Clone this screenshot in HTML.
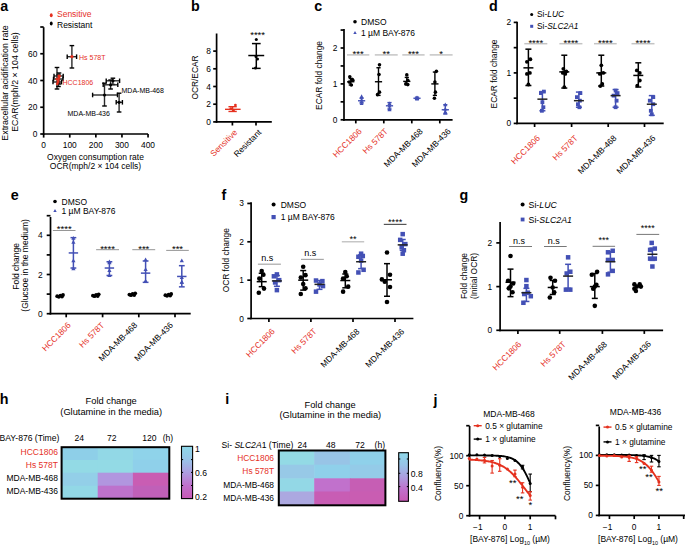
<!DOCTYPE html>
<html><head><meta charset="utf-8"><style>
html,body{margin:0;padding:0;background:#fff;}
svg{display:block;}
text{font-family:"Liberation Sans", sans-serif;}
</style></head><body>
<svg width="685" height="546" viewBox="0 0 685 546">
<rect width="685" height="546" fill="#fff"/>
<text x="0.3" y="10.9" font-size="14.3" text-anchor="start" fill="#000" font-weight="bold">a</text>
<ellipse cx="51.25" cy="15.2" rx="1.45" ry="2.0" fill="#e5311f"/>
<text x="57" y="17.4" font-size="8.5" text-anchor="start" fill="#e5311f">Sensitive</text>
<ellipse cx="51.25" cy="23.5" rx="1.45" ry="2.0" fill="#000"/>
<text x="57" y="27.7" font-size="8.5" text-anchor="start" fill="#000">Resistant</text>
<line x1="43.65" y1="27.20" x2="43.65" y2="134.85" stroke="#000" stroke-width="1.7"/>
<line x1="40.25" y1="134.00" x2="43.65" y2="134.00" stroke="#000" stroke-width="1.7"/>
<line x1="40.25" y1="107.25" x2="43.65" y2="107.25" stroke="#000" stroke-width="1.7"/>
<line x1="40.25" y1="80.50" x2="43.65" y2="80.50" stroke="#000" stroke-width="1.7"/>
<line x1="40.25" y1="53.75" x2="43.65" y2="53.75" stroke="#000" stroke-width="1.7"/>
<line x1="40.25" y1="27.00" x2="43.65" y2="27.00" stroke="#000" stroke-width="1.7"/>
<text x="37.45" y="137.01" font-size="8.4" text-anchor="end" fill="#000">0</text>
<text x="37.45" y="110.26" font-size="8.4" text-anchor="end" fill="#000">20</text>
<text x="37.45" y="83.51" font-size="8.4" text-anchor="end" fill="#000">40</text>
<text x="37.45" y="56.76" font-size="8.4" text-anchor="end" fill="#000">60</text>
<line x1="42.80" y1="134.00" x2="148.05" y2="134.00" stroke="#000" stroke-width="1.7"/>
<line x1="43.65" y1="134.00" x2="43.65" y2="137.60" stroke="#000" stroke-width="1.7"/>
<line x1="69.75" y1="134.00" x2="69.75" y2="137.60" stroke="#000" stroke-width="1.7"/>
<line x1="95.85" y1="134.00" x2="95.85" y2="137.60" stroke="#000" stroke-width="1.7"/>
<line x1="121.95" y1="134.00" x2="121.95" y2="137.60" stroke="#000" stroke-width="1.7"/>
<line x1="148.05" y1="134.00" x2="148.05" y2="137.60" stroke="#000" stroke-width="1.7"/>
<text x="43.65" y="148.0" font-size="8.4" text-anchor="middle" fill="#000">0</text>
<text x="69.75" y="148.0" font-size="8.4" text-anchor="middle" fill="#000">100</text>
<text x="95.85" y="148.0" font-size="8.4" text-anchor="middle" fill="#000">200</text>
<text x="121.94999999999999" y="148.0" font-size="8.4" text-anchor="middle" fill="#000">300</text>
<text x="148.05" y="148.0" font-size="8.4" text-anchor="middle" fill="#000">400</text>
<text x="95.5" y="160.0" font-size="8.5" text-anchor="middle" fill="#000">Oxygen consumption rate</text>
<text x="95.5" y="168.8" font-size="8.5" text-anchor="middle" fill="#000">OCR(mph/2 × 104 cells)</text>
<text x="8.4" y="83" font-size="8.9" text-anchor="middle" fill="#000" transform="rotate(-90 8.4 83)">Extracellular acidification rate</text>
<text x="18.0" y="82.0" font-size="8.8" text-anchor="middle" fill="#000" transform="rotate(-90 18.0 82.0)">ECAR(mph/2 × 104 cells)</text>
<line x1="67.20" y1="56.70" x2="76.60" y2="56.70" stroke="#2a2a2a" stroke-width="1.4"/>
<line x1="71.90" y1="45.60" x2="71.90" y2="68.00" stroke="#2a2a2a" stroke-width="1.4"/>
<line x1="67.20" y1="54.40" x2="67.20" y2="59.00" stroke="#000" stroke-width="1.4"/>
<line x1="76.60" y1="54.40" x2="76.60" y2="59.00" stroke="#000" stroke-width="1.4"/>
<line x1="69.60" y1="45.60" x2="74.20" y2="45.60" stroke="#000" stroke-width="1.4"/>
<line x1="69.60" y1="68.00" x2="74.20" y2="68.00" stroke="#000" stroke-width="1.4"/>
<circle cx="71.90" cy="56.70" r="1.6" fill="#e5311f"/>
<text x="79" y="59.6" font-size="7.0" text-anchor="start" fill="#e5311f">Hs 578T</text>
<line x1="53.50" y1="79.00" x2="63.00" y2="79.00" stroke="#2a2a2a" stroke-width="1.4"/>
<line x1="57.00" y1="67.50" x2="57.00" y2="89.00" stroke="#2a2a2a" stroke-width="1.4"/>
<line x1="53.50" y1="76.70" x2="53.50" y2="81.30" stroke="#000" stroke-width="1.4"/>
<line x1="63.00" y1="76.70" x2="63.00" y2="81.30" stroke="#000" stroke-width="1.4"/>
<line x1="54.70" y1="67.50" x2="59.30" y2="67.50" stroke="#000" stroke-width="1.4"/>
<line x1="54.70" y1="89.00" x2="59.30" y2="89.00" stroke="#000" stroke-width="1.4"/>
<circle cx="57.00" cy="79.00" r="1.6" fill="#e5311f"/>
<line x1="53.00" y1="82.00" x2="61.50" y2="82.00" stroke="#2a2a2a" stroke-width="1.4"/>
<line x1="58.50" y1="75.00" x2="58.50" y2="86.50" stroke="#2a2a2a" stroke-width="1.4"/>
<line x1="53.00" y1="79.70" x2="53.00" y2="84.30" stroke="#000" stroke-width="1.4"/>
<line x1="61.50" y1="79.70" x2="61.50" y2="84.30" stroke="#000" stroke-width="1.4"/>
<line x1="56.20" y1="75.00" x2="60.80" y2="75.00" stroke="#000" stroke-width="1.4"/>
<line x1="56.20" y1="86.50" x2="60.80" y2="86.50" stroke="#000" stroke-width="1.4"/>
<circle cx="58.50" cy="82.00" r="1.6" fill="#e5311f"/>
<line x1="54.00" y1="76.00" x2="63.20" y2="76.00" stroke="#2a2a2a" stroke-width="1.4"/>
<line x1="59.00" y1="73.00" x2="59.00" y2="84.00" stroke="#2a2a2a" stroke-width="1.4"/>
<line x1="54.00" y1="73.70" x2="54.00" y2="78.30" stroke="#000" stroke-width="1.4"/>
<line x1="63.20" y1="73.70" x2="63.20" y2="78.30" stroke="#000" stroke-width="1.4"/>
<line x1="56.70" y1="73.00" x2="61.30" y2="73.00" stroke="#000" stroke-width="1.4"/>
<line x1="56.70" y1="84.00" x2="61.30" y2="84.00" stroke="#000" stroke-width="1.4"/>
<circle cx="59.00" cy="76.00" r="1.6" fill="#e5311f"/>
<line x1="57.0" y1="85" x2="59.8" y2="75" stroke="#e5311f" stroke-width="2.4"/>
<text x="62.5" y="84.6" font-size="7.0" text-anchor="start" fill="#e5311f">HCC1806</text>
<line x1="106.20" y1="80.80" x2="119.60" y2="80.80" stroke="#2a2a2a" stroke-width="1.4"/>
<line x1="112.90" y1="78.20" x2="112.90" y2="84.50" stroke="#2a2a2a" stroke-width="1.4"/>
<line x1="106.20" y1="78.50" x2="106.20" y2="83.10" stroke="#000" stroke-width="1.4"/>
<line x1="119.60" y1="78.50" x2="119.60" y2="83.10" stroke="#000" stroke-width="1.4"/>
<line x1="110.60" y1="78.20" x2="115.20" y2="78.20" stroke="#000" stroke-width="1.4"/>
<line x1="110.60" y1="84.50" x2="115.20" y2="84.50" stroke="#000" stroke-width="1.4"/>
<circle cx="112.90" cy="80.80" r="1.6" fill="#000"/>
<line x1="103.20" y1="84.80" x2="117.80" y2="84.80" stroke="#2a2a2a" stroke-width="1.4"/>
<line x1="110.60" y1="80.00" x2="110.60" y2="89.00" stroke="#2a2a2a" stroke-width="1.4"/>
<line x1="103.20" y1="82.50" x2="103.20" y2="87.10" stroke="#000" stroke-width="1.4"/>
<line x1="117.80" y1="82.50" x2="117.80" y2="87.10" stroke="#000" stroke-width="1.4"/>
<line x1="108.30" y1="80.00" x2="112.90" y2="80.00" stroke="#000" stroke-width="1.4"/>
<line x1="108.30" y1="89.00" x2="112.90" y2="89.00" stroke="#000" stroke-width="1.4"/>
<circle cx="110.60" cy="84.80" r="1.6" fill="#000"/>
<text x="121.5" y="93.4" font-size="7.0" text-anchor="start" fill="#000">MDA-MB-468</text>
<line x1="92.60" y1="95.00" x2="117.50" y2="95.00" stroke="#2a2a2a" stroke-width="1.4"/>
<line x1="104.50" y1="83.20" x2="104.50" y2="106.00" stroke="#2a2a2a" stroke-width="1.4"/>
<line x1="92.60" y1="92.70" x2="92.60" y2="97.30" stroke="#000" stroke-width="1.4"/>
<line x1="117.50" y1="92.70" x2="117.50" y2="97.30" stroke="#000" stroke-width="1.4"/>
<line x1="102.20" y1="83.20" x2="106.80" y2="83.20" stroke="#000" stroke-width="1.4"/>
<line x1="102.20" y1="106.00" x2="106.80" y2="106.00" stroke="#000" stroke-width="1.4"/>
<circle cx="104.50" cy="95.00" r="1.6" fill="#000"/>
<line x1="116.20" y1="102.30" x2="122.40" y2="102.30" stroke="#2a2a2a" stroke-width="1.4"/>
<line x1="119.10" y1="93.20" x2="119.10" y2="112.00" stroke="#2a2a2a" stroke-width="1.4"/>
<line x1="116.20" y1="100.00" x2="116.20" y2="104.60" stroke="#000" stroke-width="1.4"/>
<line x1="122.40" y1="100.00" x2="122.40" y2="104.60" stroke="#000" stroke-width="1.4"/>
<line x1="116.80" y1="93.20" x2="121.40" y2="93.20" stroke="#000" stroke-width="1.4"/>
<line x1="116.80" y1="112.00" x2="121.40" y2="112.00" stroke="#000" stroke-width="1.4"/>
<circle cx="119.10" cy="102.30" r="1.6" fill="#000"/>
<text x="67.5" y="116.0" font-size="7.0" text-anchor="start" fill="#000">MDA-MB-436</text>
<text x="191.0" y="10.9" font-size="14.3" text-anchor="start" fill="#000" font-weight="bold">b</text>
<line x1="216.60" y1="33.50" x2="216.60" y2="122.75" stroke="#000" stroke-width="1.7"/>
<line x1="213.20" y1="121.90" x2="216.60" y2="121.90" stroke="#000" stroke-width="1.7"/>
<line x1="213.20" y1="104.20" x2="216.60" y2="104.20" stroke="#000" stroke-width="1.7"/>
<line x1="213.20" y1="86.50" x2="216.60" y2="86.50" stroke="#000" stroke-width="1.7"/>
<line x1="213.20" y1="68.80" x2="216.60" y2="68.80" stroke="#000" stroke-width="1.7"/>
<line x1="213.20" y1="51.10" x2="216.60" y2="51.10" stroke="#000" stroke-width="1.7"/>
<text x="211.0" y="124.91" font-size="8.4" text-anchor="end" fill="#000">0</text>
<text x="211.0" y="107.21" font-size="8.4" text-anchor="end" fill="#000">2</text>
<text x="211.0" y="89.51" font-size="8.4" text-anchor="end" fill="#000">4</text>
<text x="211.0" y="71.81" font-size="8.4" text-anchor="end" fill="#000">6</text>
<text x="211.0" y="54.11" font-size="8.4" text-anchor="end" fill="#000">8</text>
<line x1="215.75" y1="121.90" x2="271.80" y2="121.90" stroke="#000" stroke-width="1.7"/>
<line x1="232.40" y1="121.90" x2="232.40" y2="125.50" stroke="#000" stroke-width="1.7"/>
<line x1="256.00" y1="121.90" x2="256.00" y2="125.50" stroke="#000" stroke-width="1.7"/>
<text x="197.6" y="77.5" font-size="8.4" text-anchor="middle" fill="#000" transform="rotate(-90 197.6 77.5)">OCR/ECAR</text>
<circle cx="235.40" cy="105.09" r="1.4" fill="#e5311f"/>
<circle cx="230.90" cy="108.62" r="1.4" fill="#e5311f"/>
<circle cx="233.40" cy="110.40" r="1.4" fill="#e5311f"/>
<line x1="232.60" y1="111.46" x2="232.60" y2="106.68" stroke="#e5311f" stroke-width="1.4"/>
<line x1="228.45" y1="111.46" x2="236.75" y2="111.46" stroke="#e5311f" stroke-width="1.4"/>
<line x1="228.45" y1="106.68" x2="236.75" y2="106.68" stroke="#e5311f" stroke-width="1.4"/>
<line x1="225.00" y1="109.33" x2="240.60" y2="109.33" stroke="#e5311f" stroke-width="1.4"/>
<circle cx="256.30" cy="39.59" r="1.5" fill="#000"/>
<circle cx="256.00" cy="56.41" r="1.5" fill="#000"/>
<circle cx="257.50" cy="59.07" r="1.5" fill="#000"/>
<circle cx="255.50" cy="67.92" r="1.5" fill="#000"/>
<line x1="256.30" y1="68.36" x2="256.30" y2="43.58" stroke="#000" stroke-width="1.5"/>
<line x1="251.95" y1="68.36" x2="260.65" y2="68.36" stroke="#000" stroke-width="1.5"/>
<line x1="251.95" y1="43.58" x2="260.65" y2="43.58" stroke="#000" stroke-width="1.5"/>
<line x1="248.30" y1="55.53" x2="264.20" y2="55.53" stroke="#000" stroke-width="1.5"/>
<text x="257.6" y="38.1" font-size="9.5" text-anchor="middle" fill="#000">****</text>
<text x="237.91" y="132.9" font-size="8.4" text-anchor="end" fill="#e5311f" transform="rotate(-45 237.91 132.9)">Sensitive</text>
<text x="261.84" y="132.9" font-size="8.4" text-anchor="end" fill="#000" transform="rotate(-45 261.84 132.9)">Resistant</text>
<text x="314.3" y="10.9" font-size="14.3" text-anchor="start" fill="#000" font-weight="bold">c</text>
<line x1="344.00" y1="29.00" x2="344.00" y2="120.65" stroke="#000" stroke-width="1.7"/>
<line x1="340.60" y1="119.80" x2="344.00" y2="119.80" stroke="#000" stroke-width="1.7"/>
<line x1="340.60" y1="83.90" x2="344.00" y2="83.90" stroke="#000" stroke-width="1.7"/>
<line x1="340.60" y1="48.00" x2="344.00" y2="48.00" stroke="#000" stroke-width="1.7"/>
<line x1="340.60" y1="101.85" x2="344.00" y2="101.85" stroke="#000" stroke-width="1.7"/>
<line x1="340.60" y1="65.95" x2="344.00" y2="65.95" stroke="#000" stroke-width="1.7"/>
<line x1="340.60" y1="30.05" x2="344.00" y2="30.05" stroke="#000" stroke-width="1.7"/>
<text x="337.4" y="122.81" font-size="8.4" text-anchor="end" fill="#000">0</text>
<text x="337.4" y="86.91" font-size="8.4" text-anchor="end" fill="#000">1</text>
<text x="337.4" y="51.01" font-size="8.4" text-anchor="end" fill="#000">2</text>
<line x1="343.15" y1="119.80" x2="452.60" y2="119.80" stroke="#000" stroke-width="1.7"/>
<line x1="355.80" y1="119.80" x2="355.80" y2="123.40" stroke="#000" stroke-width="1.7"/>
<line x1="383.80" y1="119.80" x2="383.80" y2="123.40" stroke="#000" stroke-width="1.7"/>
<line x1="411.80" y1="119.80" x2="411.80" y2="123.40" stroke="#000" stroke-width="1.7"/>
<line x1="439.80" y1="119.80" x2="439.80" y2="123.40" stroke="#000" stroke-width="1.7"/>
<text x="322.3" y="75.5" font-size="8.4" text-anchor="middle" fill="#000" transform="rotate(-90 322.3 75.5)">ECAR fold change</text>
<circle cx="355.00" cy="21.80" r="1.8" fill="#000"/>
<text x="361" y="24.6" font-size="8.5" text-anchor="start" fill="#000">DMSO</text>
<polygon points="355.00,30.96 353.30,34.02 356.70,34.02" fill="#4350b5"/>
<text x="361" y="35.6" font-size="8.5" text-anchor="start" fill="#000">1 µM BAY-876</text>
<line x1="347.00" y1="54.90" x2="369.30" y2="54.90" stroke="#c4c4c4" stroke-width="1.5"/>
<text x="358.15" y="56.9" font-size="9.5" text-anchor="middle" fill="#000">***</text>
<line x1="374.80" y1="54.90" x2="397.70" y2="54.90" stroke="#c4c4c4" stroke-width="1.5"/>
<text x="386.25" y="56.9" font-size="9.5" text-anchor="middle" fill="#000">**</text>
<line x1="402.30" y1="54.90" x2="424.60" y2="54.90" stroke="#c4c4c4" stroke-width="1.5"/>
<text x="413.45" y="56.9" font-size="9.5" text-anchor="middle" fill="#000">***</text>
<line x1="429.70" y1="54.90" x2="452.60" y2="54.90" stroke="#c4c4c4" stroke-width="1.5"/>
<text x="441.15" y="56.9" font-size="9.5" text-anchor="middle" fill="#000">*</text>
<circle cx="349.80" cy="76.72" r="1.8" fill="#000"/>
<circle cx="352.30" cy="79.59" r="1.8" fill="#000"/>
<circle cx="349.30" cy="82.10" r="1.8" fill="#000"/>
<circle cx="351.30" cy="84.98" r="1.8" fill="#000"/>
<circle cx="352.80" cy="80.31" r="1.8" fill="#000"/>
<line x1="350.80" y1="84.98" x2="350.80" y2="78.52" stroke="#000" stroke-width="1.4"/>
<line x1="348.70" y1="84.98" x2="352.90" y2="84.98" stroke="#000" stroke-width="1.4"/>
<line x1="348.70" y1="78.52" x2="352.90" y2="78.52" stroke="#000" stroke-width="1.4"/>
<line x1="347.20" y1="81.75" x2="354.40" y2="81.75" stroke="#000" stroke-width="1.4"/>
<polygon points="361.60,94.31 359.60,97.91 363.60,97.91" fill="#4350b5"/>
<polygon points="361.60,97.89 359.60,101.49 363.60,101.49" fill="#4350b5"/>
<polygon points="361.60,99.69 359.60,103.29 363.60,103.29" fill="#4350b5"/>
<polygon points="361.60,101.48 359.60,105.08 363.60,105.08" fill="#4350b5"/>
<line x1="361.60" y1="102.93" x2="361.60" y2="98.26" stroke="#4350b5" stroke-width="1.4"/>
<line x1="359.50" y1="102.93" x2="363.70" y2="102.93" stroke="#4350b5" stroke-width="1.4"/>
<line x1="359.50" y1="98.26" x2="363.70" y2="98.26" stroke="#4350b5" stroke-width="1.4"/>
<line x1="358.00" y1="100.77" x2="365.20" y2="100.77" stroke="#4350b5" stroke-width="1.4"/>
<circle cx="379.50" cy="64.87" r="1.8" fill="#000"/>
<circle cx="379.00" cy="74.57" r="1.8" fill="#000"/>
<circle cx="379.50" cy="92.16" r="1.8" fill="#000"/>
<circle cx="377.50" cy="94.67" r="1.8" fill="#000"/>
<line x1="378.50" y1="95.39" x2="378.50" y2="67.75" stroke="#000" stroke-width="1.4"/>
<line x1="376.40" y1="95.39" x2="380.60" y2="95.39" stroke="#000" stroke-width="1.4"/>
<line x1="376.40" y1="67.75" x2="380.60" y2="67.75" stroke="#000" stroke-width="1.4"/>
<line x1="374.90" y1="81.75" x2="382.10" y2="81.75" stroke="#000" stroke-width="1.4"/>
<polygon points="389.50,101.48 387.50,105.08 391.50,105.08" fill="#4350b5"/>
<polygon points="389.50,104.00 387.50,107.60 391.50,107.60" fill="#4350b5"/>
<polygon points="389.50,106.87 387.50,110.47 391.50,110.47" fill="#4350b5"/>
<polygon points="389.50,107.59 387.50,111.19 391.50,111.19" fill="#4350b5"/>
<line x1="389.50" y1="109.03" x2="389.50" y2="102.57" stroke="#4350b5" stroke-width="1.4"/>
<line x1="387.40" y1="109.03" x2="391.60" y2="109.03" stroke="#4350b5" stroke-width="1.4"/>
<line x1="387.40" y1="102.57" x2="391.60" y2="102.57" stroke="#4350b5" stroke-width="1.4"/>
<line x1="385.90" y1="105.80" x2="393.10" y2="105.80" stroke="#4350b5" stroke-width="1.4"/>
<circle cx="406.80" cy="74.92" r="1.8" fill="#000"/>
<circle cx="407.80" cy="80.31" r="1.8" fill="#000"/>
<circle cx="405.80" cy="83.90" r="1.8" fill="#000"/>
<circle cx="407.80" cy="84.62" r="1.8" fill="#000"/>
<line x1="406.80" y1="84.62" x2="406.80" y2="77.44" stroke="#000" stroke-width="1.4"/>
<line x1="404.70" y1="84.62" x2="408.90" y2="84.62" stroke="#000" stroke-width="1.4"/>
<line x1="404.70" y1="77.44" x2="408.90" y2="77.44" stroke="#000" stroke-width="1.4"/>
<line x1="403.20" y1="81.39" x2="410.40" y2="81.39" stroke="#000" stroke-width="1.4"/>
<polygon points="417.00,95.38 415.00,98.98 419.00,98.98" fill="#4350b5"/>
<polygon points="417.00,96.10 415.00,99.70 419.00,99.70" fill="#4350b5"/>
<polygon points="417.00,96.82 415.00,100.42 419.00,100.42" fill="#4350b5"/>
<line x1="417.00" y1="99.34" x2="417.00" y2="97.18" stroke="#4350b5" stroke-width="1.4"/>
<line x1="414.90" y1="99.34" x2="419.10" y2="99.34" stroke="#4350b5" stroke-width="1.4"/>
<line x1="414.90" y1="97.18" x2="419.10" y2="97.18" stroke="#4350b5" stroke-width="1.4"/>
<line x1="413.40" y1="98.26" x2="420.60" y2="98.26" stroke="#4350b5" stroke-width="1.4"/>
<circle cx="436.40" cy="71.33" r="1.8" fill="#000"/>
<circle cx="434.90" cy="82.10" r="1.8" fill="#000"/>
<circle cx="435.40" cy="92.16" r="1.8" fill="#000"/>
<circle cx="434.40" cy="98.26" r="1.8" fill="#000"/>
<line x1="434.90" y1="95.39" x2="434.90" y2="72.05" stroke="#000" stroke-width="1.4"/>
<line x1="432.80" y1="95.39" x2="437.00" y2="95.39" stroke="#000" stroke-width="1.4"/>
<line x1="432.80" y1="72.05" x2="437.00" y2="72.05" stroke="#000" stroke-width="1.4"/>
<line x1="431.30" y1="83.90" x2="438.50" y2="83.90" stroke="#000" stroke-width="1.4"/>
<polygon points="445.30,102.56 443.30,106.16 447.30,106.16" fill="#4350b5"/>
<polygon points="445.30,106.87 443.30,110.47 447.30,110.47" fill="#4350b5"/>
<polygon points="445.30,109.74 443.30,113.34 447.30,113.34" fill="#4350b5"/>
<polygon points="445.30,110.46 443.30,114.06 447.30,114.06" fill="#4350b5"/>
<line x1="445.30" y1="114.06" x2="445.30" y2="104.72" stroke="#4350b5" stroke-width="1.4"/>
<line x1="443.20" y1="114.06" x2="447.40" y2="114.06" stroke="#4350b5" stroke-width="1.4"/>
<line x1="443.20" y1="104.72" x2="447.40" y2="104.72" stroke="#4350b5" stroke-width="1.4"/>
<line x1="441.70" y1="109.75" x2="448.90" y2="109.75" stroke="#4350b5" stroke-width="1.4"/>
<text x="362.3" y="131.9" font-size="8.4" text-anchor="end" fill="#e5311f" transform="rotate(-45 362.3 131.9)">HCC1806</text>
<text x="388.48" y="131.9" font-size="8.4" text-anchor="end" fill="#e5311f" transform="rotate(-45 388.48 131.9)">Hs 578T</text>
<text x="423.24" y="131.9" font-size="8.4" text-anchor="end" fill="#000" transform="rotate(-45 423.24 131.9)">MDA-MB-468</text>
<text x="451.24" y="131.9" font-size="8.4" text-anchor="end" fill="#000" transform="rotate(-45 451.24 131.9)">MDA-MB-436</text>
<text x="488.9" y="10.9" font-size="14.3" text-anchor="start" fill="#000" font-weight="bold">d</text>
<line x1="517.10" y1="21.80" x2="517.10" y2="124.25" stroke="#000" stroke-width="1.7"/>
<line x1="513.70" y1="123.40" x2="517.10" y2="123.40" stroke="#000" stroke-width="1.7"/>
<line x1="513.70" y1="72.90" x2="517.10" y2="72.90" stroke="#000" stroke-width="1.7"/>
<line x1="513.70" y1="22.40" x2="517.10" y2="22.40" stroke="#000" stroke-width="1.7"/>
<line x1="513.70" y1="98.15" x2="517.10" y2="98.15" stroke="#000" stroke-width="1.7"/>
<line x1="513.70" y1="47.65" x2="517.10" y2="47.65" stroke="#000" stroke-width="1.7"/>
<text x="511.1" y="126.41" font-size="8.4" text-anchor="end" fill="#000">0</text>
<text x="511.1" y="75.91" font-size="8.4" text-anchor="end" fill="#000">1</text>
<text x="511.1" y="25.41" font-size="8.4" text-anchor="end" fill="#000">2</text>
<line x1="516.25" y1="123.40" x2="663.70" y2="123.40" stroke="#000" stroke-width="1.7"/>
<line x1="534.60" y1="123.40" x2="534.60" y2="127.00" stroke="#000" stroke-width="1.7"/>
<line x1="571.60" y1="123.40" x2="571.60" y2="127.00" stroke="#000" stroke-width="1.7"/>
<line x1="608.20" y1="123.40" x2="608.20" y2="127.00" stroke="#000" stroke-width="1.7"/>
<line x1="644.50" y1="123.40" x2="644.50" y2="127.00" stroke="#000" stroke-width="1.7"/>
<text x="497.3" y="74.0" font-size="8.4" text-anchor="middle" fill="#000" transform="rotate(-90 497.3 74.0)">ECAR fold change</text>
<circle cx="531.70" cy="14.40" r="1.5" fill="#000"/>
<text x="537" y="17.2" font-size="8.4" text-anchor="start" fill="#000">Si-<tspan font-style="italic">LUC</tspan></text>
<rect x="530.20" y="24.80" width="3.0" height="3.0" fill="#4350b5"/>
<text x="537" y="29.1" font-size="8.4" text-anchor="start" fill="#000">Si-<tspan font-style="italic">SLC2A1</tspan></text>
<line x1="524.30" y1="43.70" x2="547.30" y2="43.70" stroke="#c4c4c4" stroke-width="1.5"/>
<text x="535.8" y="45.7" font-size="9.5" text-anchor="middle" fill="#000">****</text>
<line x1="559.40" y1="43.70" x2="582.40" y2="43.70" stroke="#c4c4c4" stroke-width="1.5"/>
<text x="570.9" y="45.7" font-size="9.5" text-anchor="middle" fill="#000">****</text>
<line x1="594.00" y1="43.70" x2="616.70" y2="43.70" stroke="#c4c4c4" stroke-width="1.5"/>
<text x="605.35" y="45.7" font-size="9.5" text-anchor="middle" fill="#000">****</text>
<line x1="631.50" y1="43.70" x2="654.50" y2="43.70" stroke="#c4c4c4" stroke-width="1.5"/>
<text x="643.0" y="45.7" font-size="9.5" text-anchor="middle" fill="#000">****</text>
<circle cx="530.40" cy="59.27" r="1.9" fill="#000"/>
<circle cx="526.90" cy="61.79" r="1.9" fill="#000"/>
<circle cx="529.90" cy="72.90" r="1.9" fill="#000"/>
<circle cx="526.90" cy="73.91" r="1.9" fill="#000"/>
<circle cx="528.40" cy="84.52" r="1.9" fill="#000"/>
<line x1="528.40" y1="85.53" x2="528.40" y2="49.17" stroke="#000" stroke-width="1.5"/>
<line x1="525.40" y1="85.53" x2="531.40" y2="85.53" stroke="#000" stroke-width="1.5"/>
<line x1="525.40" y1="49.17" x2="531.40" y2="49.17" stroke="#000" stroke-width="1.5"/>
<line x1="523.40" y1="67.85" x2="533.40" y2="67.85" stroke="#000" stroke-width="1.5"/>
<rect x="542.00" y="89.69" width="3.8" height="3.8" fill="#4350b5"/>
<rect x="539.00" y="91.20" width="3.8" height="3.8" fill="#4350b5"/>
<rect x="540.50" y="100.29" width="3.8" height="3.8" fill="#4350b5"/>
<rect x="541.50" y="105.34" width="3.8" height="3.8" fill="#4350b5"/>
<rect x="540.00" y="108.88" width="3.8" height="3.8" fill="#4350b5"/>
<line x1="542.40" y1="110.78" x2="542.40" y2="91.59" stroke="#4350b5" stroke-width="1.5"/>
<line x1="539.40" y1="110.78" x2="545.40" y2="110.78" stroke="#4350b5" stroke-width="1.5"/>
<line x1="539.40" y1="91.59" x2="545.40" y2="91.59" stroke="#4350b5" stroke-width="1.5"/>
<line x1="537.40" y1="99.16" x2="547.40" y2="99.16" stroke="#222" stroke-width="1.5"/>
<circle cx="563.30" cy="68.86" r="1.9" fill="#000"/>
<circle cx="566.30" cy="71.39" r="1.9" fill="#000"/>
<circle cx="562.80" cy="72.90" r="1.9" fill="#000"/>
<circle cx="565.30" cy="73.91" r="1.9" fill="#000"/>
<circle cx="564.30" cy="87.04" r="1.9" fill="#000"/>
<line x1="564.30" y1="88.05" x2="564.30" y2="55.22" stroke="#000" stroke-width="1.5"/>
<line x1="561.30" y1="88.05" x2="567.30" y2="88.05" stroke="#000" stroke-width="1.5"/>
<line x1="561.30" y1="55.22" x2="567.30" y2="55.22" stroke="#000" stroke-width="1.5"/>
<line x1="559.30" y1="71.89" x2="569.30" y2="71.89" stroke="#000" stroke-width="1.5"/>
<rect x="578.50" y="91.20" width="3.8" height="3.8" fill="#4350b5"/>
<rect x="575.00" y="95.24" width="3.8" height="3.8" fill="#4350b5"/>
<rect x="578.00" y="98.78" width="3.8" height="3.8" fill="#4350b5"/>
<rect x="576.00" y="102.31" width="3.8" height="3.8" fill="#4350b5"/>
<rect x="577.50" y="105.34" width="3.8" height="3.8" fill="#4350b5"/>
<line x1="578.90" y1="107.24" x2="578.90" y2="92.09" stroke="#4350b5" stroke-width="1.5"/>
<line x1="575.90" y1="107.24" x2="581.90" y2="107.24" stroke="#4350b5" stroke-width="1.5"/>
<line x1="575.90" y1="92.09" x2="581.90" y2="92.09" stroke="#4350b5" stroke-width="1.5"/>
<line x1="573.90" y1="100.68" x2="583.90" y2="100.68" stroke="#222" stroke-width="1.5"/>
<circle cx="601.30" cy="65.33" r="1.9" fill="#000"/>
<circle cx="603.30" cy="72.90" r="1.9" fill="#000"/>
<circle cx="599.80" cy="73.91" r="1.9" fill="#000"/>
<circle cx="602.30" cy="84.01" r="1.9" fill="#000"/>
<circle cx="600.30" cy="86.03" r="1.9" fill="#000"/>
<line x1="601.30" y1="86.03" x2="601.30" y2="55.22" stroke="#000" stroke-width="1.5"/>
<line x1="598.30" y1="86.03" x2="604.30" y2="86.03" stroke="#000" stroke-width="1.5"/>
<line x1="598.30" y1="55.22" x2="604.30" y2="55.22" stroke="#000" stroke-width="1.5"/>
<line x1="596.30" y1="72.90" x2="606.30" y2="72.90" stroke="#000" stroke-width="1.5"/>
<rect x="613.70" y="88.67" width="3.8" height="3.8" fill="#4350b5"/>
<rect x="615.70" y="91.20" width="3.8" height="3.8" fill="#4350b5"/>
<rect x="611.70" y="93.72" width="3.8" height="3.8" fill="#4350b5"/>
<rect x="614.70" y="98.78" width="3.8" height="3.8" fill="#4350b5"/>
<rect x="613.70" y="105.34" width="3.8" height="3.8" fill="#4350b5"/>
<line x1="615.60" y1="107.24" x2="615.60" y2="89.56" stroke="#4350b5" stroke-width="1.5"/>
<line x1="612.60" y1="107.24" x2="618.60" y2="107.24" stroke="#4350b5" stroke-width="1.5"/>
<line x1="612.60" y1="89.56" x2="618.60" y2="89.56" stroke="#4350b5" stroke-width="1.5"/>
<line x1="610.60" y1="95.62" x2="620.60" y2="95.62" stroke="#222" stroke-width="1.5"/>
<circle cx="636.80" cy="70.38" r="1.9" fill="#000"/>
<circle cx="639.80" cy="72.90" r="1.9" fill="#000"/>
<circle cx="639.80" cy="80.48" r="1.9" fill="#000"/>
<circle cx="637.30" cy="85.53" r="1.9" fill="#000"/>
<line x1="638.30" y1="87.04" x2="638.30" y2="62.80" stroke="#000" stroke-width="1.5"/>
<line x1="635.30" y1="87.04" x2="641.30" y2="87.04" stroke="#000" stroke-width="1.5"/>
<line x1="635.30" y1="62.80" x2="641.30" y2="62.80" stroke="#000" stroke-width="1.5"/>
<line x1="633.30" y1="75.43" x2="643.30" y2="75.43" stroke="#000" stroke-width="1.5"/>
<rect x="651.40" y="95.24" width="3.8" height="3.8" fill="#4350b5"/>
<rect x="647.90" y="98.78" width="3.8" height="3.8" fill="#4350b5"/>
<rect x="651.40" y="102.31" width="3.8" height="3.8" fill="#4350b5"/>
<rect x="648.90" y="108.88" width="3.8" height="3.8" fill="#4350b5"/>
<rect x="649.90" y="112.41" width="3.8" height="3.8" fill="#4350b5"/>
<line x1="651.80" y1="115.32" x2="651.80" y2="95.62" stroke="#4350b5" stroke-width="1.5"/>
<line x1="648.80" y1="115.32" x2="654.80" y2="115.32" stroke="#4350b5" stroke-width="1.5"/>
<line x1="648.80" y1="95.62" x2="654.80" y2="95.62" stroke="#4350b5" stroke-width="1.5"/>
<line x1="646.80" y1="104.21" x2="656.80" y2="104.21" stroke="#222" stroke-width="1.5"/>
<text x="540.6" y="138.7" font-size="8.4" text-anchor="end" fill="#e5311f" transform="rotate(-45 540.6 138.7)">HCC1806</text>
<text x="578.28" y="138.7" font-size="8.4" text-anchor="end" fill="#e5311f" transform="rotate(-45 578.28 138.7)">Hs 578T</text>
<text x="617.14" y="138.7" font-size="8.4" text-anchor="end" fill="#000" transform="rotate(-45 617.14 138.7)">MDA-MB-468</text>
<text x="655.94" y="138.7" font-size="8.4" text-anchor="end" fill="#000" transform="rotate(-45 655.94 138.7)">MDA-MB-436</text>
<text x="10.8" y="200.3" font-size="14.3" text-anchor="start" fill="#000" font-weight="bold">e</text>
<line x1="50.50" y1="217.00" x2="50.50" y2="314.55" stroke="#000" stroke-width="1.7"/>
<line x1="46.70" y1="313.70" x2="50.50" y2="313.70" stroke="#000" stroke-width="1.7"/>
<line x1="46.70" y1="294.10" x2="50.50" y2="294.10" stroke="#000" stroke-width="1.7"/>
<line x1="46.70" y1="274.50" x2="50.50" y2="274.50" stroke="#000" stroke-width="1.7"/>
<line x1="46.70" y1="254.90" x2="50.50" y2="254.90" stroke="#000" stroke-width="1.7"/>
<line x1="46.70" y1="235.30" x2="50.50" y2="235.30" stroke="#000" stroke-width="1.7"/>
<line x1="46.70" y1="215.70" x2="50.50" y2="215.70" stroke="#000" stroke-width="1.7"/>
<text x="42.7" y="316.71" font-size="8.4" text-anchor="end" fill="#000">0</text>
<text x="42.7" y="277.51" font-size="8.4" text-anchor="end" fill="#000">2</text>
<text x="42.7" y="238.31" font-size="8.4" text-anchor="end" fill="#000">4</text>
<line x1="49.65" y1="313.70" x2="190.70" y2="313.70" stroke="#000" stroke-width="1.7"/>
<line x1="66.20" y1="313.70" x2="66.20" y2="317.30" stroke="#000" stroke-width="1.7"/>
<line x1="102.60" y1="313.70" x2="102.60" y2="317.30" stroke="#000" stroke-width="1.7"/>
<line x1="138.80" y1="313.70" x2="138.80" y2="317.30" stroke="#000" stroke-width="1.7"/>
<line x1="175.00" y1="313.70" x2="175.00" y2="317.30" stroke="#000" stroke-width="1.7"/>
<text x="18.8" y="266.4" font-size="8.5" text-anchor="middle" fill="#000" transform="rotate(-90 18.8 266.4)">Fold change</text>
<text x="28.0" y="265.4" font-size="8.5" text-anchor="middle" fill="#000" transform="rotate(-90 28.0 265.4)">(Glucsoe in the medium)</text>
<circle cx="55.00" cy="201.50" r="1.8" fill="#000"/>
<text x="61.5" y="204.6" font-size="8.5" text-anchor="start" fill="#000">DMSO</text>
<polygon points="55.00,208.96 53.30,212.02 56.70,212.02" fill="#4350b5"/>
<text x="61.5" y="214.2" font-size="8.5" text-anchor="start" fill="#000">1 µM BAY-876</text>
<line x1="52.90" y1="230.50" x2="75.50" y2="230.50" stroke="#8a8a8a" stroke-width="0.9"/>
<text x="64.2" y="232.3" font-size="9.5" text-anchor="middle" fill="#000">****</text>
<line x1="96.10" y1="249.70" x2="119.00" y2="249.70" stroke="#8a8a8a" stroke-width="0.9"/>
<text x="107.55" y="251.5" font-size="9.5" text-anchor="middle" fill="#000">****</text>
<line x1="132.30" y1="249.70" x2="155.20" y2="249.70" stroke="#8a8a8a" stroke-width="0.9"/>
<text x="143.75" y="251.5" font-size="9.5" text-anchor="middle" fill="#000">***</text>
<line x1="166.20" y1="250.40" x2="188.80" y2="250.40" stroke="#8a8a8a" stroke-width="0.9"/>
<text x="177.5" y="252.2" font-size="9.5" text-anchor="middle" fill="#000">***</text>
<circle cx="57.20" cy="296.20" r="1.9" fill="#000"/>
<circle cx="58.80" cy="296.80" r="1.9" fill="#000"/>
<circle cx="60.40" cy="295.60" r="1.9" fill="#000"/>
<circle cx="62.00" cy="296.60" r="1.9" fill="#000"/>
<circle cx="63.00" cy="294.90" r="1.9" fill="#000"/>
<circle cx="92.90" cy="295.60" r="1.9" fill="#000"/>
<circle cx="94.50" cy="296.20" r="1.9" fill="#000"/>
<circle cx="96.10" cy="295.00" r="1.9" fill="#000"/>
<circle cx="97.70" cy="296.00" r="1.9" fill="#000"/>
<circle cx="98.70" cy="294.30" r="1.9" fill="#000"/>
<circle cx="129.40" cy="294.60" r="1.9" fill="#000"/>
<circle cx="131.00" cy="295.20" r="1.9" fill="#000"/>
<circle cx="132.60" cy="294.00" r="1.9" fill="#000"/>
<circle cx="134.20" cy="295.00" r="1.9" fill="#000"/>
<circle cx="135.20" cy="293.30" r="1.9" fill="#000"/>
<circle cx="165.40" cy="295.20" r="1.9" fill="#000"/>
<circle cx="167.00" cy="295.80" r="1.9" fill="#000"/>
<circle cx="168.60" cy="294.60" r="1.9" fill="#000"/>
<circle cx="170.20" cy="295.60" r="1.9" fill="#000"/>
<circle cx="171.20" cy="293.90" r="1.9" fill="#000"/>
<polygon points="73.40,235.97 71.30,239.75 75.50,239.75" fill="#4350b5"/>
<polygon points="73.40,239.89 71.30,243.67 75.50,243.67" fill="#4350b5"/>
<polygon points="73.40,258.51 71.30,262.29 75.50,262.29" fill="#4350b5"/>
<polygon points="73.40,266.35 71.30,270.13 75.50,270.13" fill="#4350b5"/>
<line x1="73.40" y1="268.03" x2="73.40" y2="237.65" stroke="#4350b5" stroke-width="1.5"/>
<line x1="70.50" y1="268.03" x2="76.30" y2="268.03" stroke="#4350b5" stroke-width="1.5"/>
<line x1="70.50" y1="237.65" x2="76.30" y2="237.65" stroke="#4350b5" stroke-width="1.5"/>
<line x1="68.70" y1="252.94" x2="78.10" y2="252.94" stroke="#4350b5" stroke-width="1.5"/>
<polygon points="109.40,259.49 107.30,263.27 111.50,263.27" fill="#4350b5"/>
<polygon points="109.40,260.47 107.30,264.25 111.50,264.25" fill="#4350b5"/>
<polygon points="109.40,268.31 107.30,272.09 111.50,272.09" fill="#4350b5"/>
<polygon points="109.40,273.21 107.30,276.99 111.50,276.99" fill="#4350b5"/>
<line x1="109.40" y1="275.48" x2="109.40" y2="261.76" stroke="#4350b5" stroke-width="1.5"/>
<line x1="106.50" y1="275.48" x2="112.30" y2="275.48" stroke="#4350b5" stroke-width="1.5"/>
<line x1="106.50" y1="261.76" x2="112.30" y2="261.76" stroke="#4350b5" stroke-width="1.5"/>
<line x1="104.70" y1="268.03" x2="114.10" y2="268.03" stroke="#4350b5" stroke-width="1.5"/>
<polygon points="145.60,257.53 143.50,261.31 147.70,261.31" fill="#4350b5"/>
<polygon points="145.60,267.33 143.50,271.11 147.70,271.11" fill="#4350b5"/>
<polygon points="145.60,279.09 143.50,282.87 147.70,282.87" fill="#4350b5"/>
<polygon points="145.60,279.09 143.50,282.87 147.70,282.87" fill="#4350b5"/>
<line x1="145.60" y1="282.34" x2="145.60" y2="260.98" stroke="#4350b5" stroke-width="1.5"/>
<line x1="142.70" y1="282.34" x2="148.50" y2="282.34" stroke="#4350b5" stroke-width="1.5"/>
<line x1="142.70" y1="260.98" x2="148.50" y2="260.98" stroke="#4350b5" stroke-width="1.5"/>
<line x1="140.90" y1="273.13" x2="150.30" y2="273.13" stroke="#4350b5" stroke-width="1.5"/>
<polygon points="181.80,258.51 179.70,262.29 183.90,262.29" fill="#4350b5"/>
<polygon points="181.80,275.17 179.70,278.95 183.90,278.95" fill="#4350b5"/>
<polygon points="181.80,280.07 179.70,283.85 183.90,283.85" fill="#4350b5"/>
<polygon points="181.80,280.07 179.70,283.85 183.90,283.85" fill="#4350b5"/>
<line x1="181.80" y1="286.85" x2="181.80" y2="265.68" stroke="#4350b5" stroke-width="1.5"/>
<line x1="178.90" y1="286.85" x2="184.70" y2="286.85" stroke="#4350b5" stroke-width="1.5"/>
<line x1="178.90" y1="265.68" x2="184.70" y2="265.68" stroke="#4350b5" stroke-width="1.5"/>
<line x1="177.10" y1="276.46" x2="186.50" y2="276.46" stroke="#4350b5" stroke-width="1.5"/>
<text x="71.4" y="325.8" font-size="8.4" text-anchor="end" fill="#e5311f" transform="rotate(-45 71.4 325.8)">HCC1806</text>
<text x="104.78" y="325.8" font-size="8.4" text-anchor="end" fill="#e5311f" transform="rotate(-45 104.78 325.8)">Hs 578T</text>
<text x="137.84" y="325.8" font-size="8.4" text-anchor="end" fill="#000" transform="rotate(-45 137.84 325.8)">MDA-MB-468</text>
<text x="173.54" y="325.8" font-size="8.4" text-anchor="end" fill="#000" transform="rotate(-45 173.54 325.8)">MDA-MB-436</text>
<text x="221.6" y="200.2" font-size="14.3" text-anchor="start" fill="#000" font-weight="bold">f</text>
<line x1="251.10" y1="202.30" x2="251.10" y2="319.35" stroke="#000" stroke-width="1.7"/>
<line x1="247.30" y1="318.50" x2="251.10" y2="318.50" stroke="#000" stroke-width="1.7"/>
<line x1="247.30" y1="280.15" x2="251.10" y2="280.15" stroke="#000" stroke-width="1.7"/>
<line x1="247.30" y1="241.80" x2="251.10" y2="241.80" stroke="#000" stroke-width="1.7"/>
<line x1="247.30" y1="203.45" x2="251.10" y2="203.45" stroke="#000" stroke-width="1.7"/>
<text x="243.9" y="321.51" font-size="8.4" text-anchor="end" fill="#000">0</text>
<text x="243.9" y="283.16" font-size="8.4" text-anchor="end" fill="#000">1</text>
<text x="243.9" y="244.81" font-size="8.4" text-anchor="end" fill="#000">2</text>
<text x="243.9" y="206.46" font-size="8.4" text-anchor="end" fill="#000">3</text>
<line x1="250.25" y1="318.50" x2="413.40" y2="318.50" stroke="#000" stroke-width="1.7"/>
<line x1="268.90" y1="318.50" x2="268.90" y2="322.10" stroke="#000" stroke-width="1.7"/>
<line x1="310.90" y1="318.50" x2="310.90" y2="322.10" stroke="#000" stroke-width="1.7"/>
<line x1="353.00" y1="318.50" x2="353.00" y2="322.10" stroke="#000" stroke-width="1.7"/>
<line x1="395.00" y1="318.50" x2="395.00" y2="322.10" stroke="#000" stroke-width="1.7"/>
<text x="229.3" y="260.2" font-size="8.4" text-anchor="middle" fill="#000" transform="rotate(-90 229.3 260.2)">OCR fold change</text>
<circle cx="273.60" cy="204.50" r="2.0" fill="#000"/>
<text x="280.7" y="207.7" font-size="8.5" text-anchor="start" fill="#000">DMSO</text>
<rect x="271.50" y="215.00" width="4.2" height="4.2" fill="#4350b5"/>
<text x="280.7" y="220.3" font-size="8.5" text-anchor="start" fill="#000">1 µM BAY-876</text>
<line x1="257.90" y1="264.20" x2="280.90" y2="264.20" stroke="#a8a8a8" stroke-width="1.2"/>
<text x="267.2" y="261.09999999999997" font-size="9.0" text-anchor="middle" fill="#000">n.s</text>
<line x1="301.00" y1="259.40" x2="323.80" y2="259.40" stroke="#a8a8a8" stroke-width="1.2"/>
<text x="310.2" y="256.29999999999995" font-size="9.0" text-anchor="middle" fill="#000">n.s</text>
<line x1="341.80" y1="241.80" x2="364.20" y2="241.80" stroke="#b8b8b8" stroke-width="1.2"/>
<text x="353.0" y="242.23" font-size="9.2" text-anchor="middle" fill="#000">**</text>
<line x1="383.80" y1="224.40" x2="406.50" y2="224.40" stroke="#555" stroke-width="1.2"/>
<text x="395.15" y="224.83" font-size="9.2" text-anchor="middle" fill="#000">****</text>
<circle cx="261.70" cy="270.95" r="2.3" fill="#000"/>
<circle cx="263.40" cy="274.78" r="2.3" fill="#000"/>
<circle cx="259.30" cy="278.62" r="2.3" fill="#000"/>
<circle cx="264.00" cy="288.59" r="2.3" fill="#000"/>
<circle cx="258.80" cy="292.81" r="2.3" fill="#000"/>
<line x1="261.70" y1="286.67" x2="261.70" y2="273.25" stroke="#000" stroke-width="1.5"/>
<line x1="258.70" y1="286.67" x2="264.70" y2="286.67" stroke="#000" stroke-width="1.5"/>
<line x1="258.70" y1="273.25" x2="264.70" y2="273.25" stroke="#000" stroke-width="1.5"/>
<line x1="256.70" y1="281.68" x2="266.70" y2="281.68" stroke="#000" stroke-width="1.5"/>
<rect x="274.65" y="272.15" width="4.5" height="4.5" fill="#4350b5"/>
<rect x="271.65" y="274.06" width="4.5" height="4.5" fill="#4350b5"/>
<rect x="276.95" y="277.90" width="4.5" height="4.5" fill="#4350b5"/>
<rect x="272.85" y="280.20" width="4.5" height="4.5" fill="#4350b5"/>
<rect x="274.65" y="287.87" width="4.5" height="4.5" fill="#4350b5"/>
<line x1="276.90" y1="286.29" x2="276.90" y2="275.55" stroke="#4350b5" stroke-width="1.5"/>
<line x1="273.90" y1="286.29" x2="279.90" y2="286.29" stroke="#4350b5" stroke-width="1.5"/>
<line x1="273.90" y1="275.55" x2="279.90" y2="275.55" stroke="#4350b5" stroke-width="1.5"/>
<line x1="271.90" y1="280.92" x2="281.90" y2="280.92" stroke="#222" stroke-width="1.5"/>
<circle cx="303.20" cy="266.73" r="2.3" fill="#000"/>
<circle cx="305.50" cy="275.16" r="2.3" fill="#000"/>
<circle cx="300.80" cy="277.47" r="2.3" fill="#000"/>
<circle cx="303.20" cy="283.99" r="2.3" fill="#000"/>
<circle cx="305.50" cy="288.20" r="2.3" fill="#000"/>
<circle cx="300.80" cy="293.96" r="2.3" fill="#000"/>
<line x1="303.20" y1="290.12" x2="303.20" y2="270.56" stroke="#000" stroke-width="1.5"/>
<line x1="300.20" y1="290.12" x2="306.20" y2="290.12" stroke="#000" stroke-width="1.5"/>
<line x1="300.20" y1="270.56" x2="306.20" y2="270.56" stroke="#000" stroke-width="1.5"/>
<line x1="298.20" y1="280.15" x2="308.20" y2="280.15" stroke="#000" stroke-width="1.5"/>
<rect x="313.75" y="278.28" width="4.5" height="4.5" fill="#4350b5"/>
<rect x="320.15" y="278.86" width="4.5" height="4.5" fill="#4350b5"/>
<rect x="317.25" y="282.12" width="4.5" height="4.5" fill="#4350b5"/>
<rect x="320.75" y="283.84" width="4.5" height="4.5" fill="#4350b5"/>
<rect x="313.75" y="289.40" width="4.5" height="4.5" fill="#4350b5"/>
<line x1="319.50" y1="289.35" x2="319.50" y2="280.53" stroke="#4350b5" stroke-width="1.5"/>
<line x1="316.50" y1="289.35" x2="322.50" y2="289.35" stroke="#4350b5" stroke-width="1.5"/>
<line x1="316.50" y1="280.53" x2="322.50" y2="280.53" stroke="#4350b5" stroke-width="1.5"/>
<line x1="314.50" y1="284.37" x2="324.50" y2="284.37" stroke="#222" stroke-width="1.5"/>
<circle cx="345.30" cy="272.10" r="2.3" fill="#000"/>
<circle cx="346.70" cy="276.31" r="2.3" fill="#000"/>
<circle cx="343.10" cy="278.62" r="2.3" fill="#000"/>
<circle cx="348.20" cy="286.67" r="2.3" fill="#000"/>
<circle cx="343.10" cy="291.65" r="2.3" fill="#000"/>
<line x1="345.30" y1="287.82" x2="345.30" y2="274.01" stroke="#000" stroke-width="1.5"/>
<line x1="342.30" y1="287.82" x2="348.30" y2="287.82" stroke="#000" stroke-width="1.5"/>
<line x1="342.30" y1="274.01" x2="348.30" y2="274.01" stroke="#000" stroke-width="1.5"/>
<line x1="340.30" y1="280.53" x2="350.30" y2="280.53" stroke="#000" stroke-width="1.5"/>
<rect x="358.85" y="251.44" width="4.5" height="4.5" fill="#4350b5"/>
<rect x="356.15" y="254.51" width="4.5" height="4.5" fill="#4350b5"/>
<rect x="360.55" y="253.74" width="4.5" height="4.5" fill="#4350b5"/>
<rect x="358.85" y="258.34" width="4.5" height="4.5" fill="#4350b5"/>
<rect x="361.35" y="267.55" width="4.5" height="4.5" fill="#4350b5"/>
<rect x="356.15" y="270.23" width="4.5" height="4.5" fill="#4350b5"/>
<line x1="361.10" y1="268.64" x2="361.10" y2="254.84" stroke="#4350b5" stroke-width="1.5"/>
<line x1="358.10" y1="268.64" x2="364.10" y2="268.64" stroke="#4350b5" stroke-width="1.5"/>
<line x1="358.10" y1="254.84" x2="364.10" y2="254.84" stroke="#4350b5" stroke-width="1.5"/>
<line x1="356.10" y1="261.74" x2="366.10" y2="261.74" stroke="#222" stroke-width="1.5"/>
<circle cx="387.00" cy="252.54" r="2.3" fill="#000"/>
<circle cx="381.90" cy="279.38" r="2.3" fill="#000"/>
<circle cx="384.80" cy="281.68" r="2.3" fill="#000"/>
<circle cx="390.00" cy="274.78" r="2.3" fill="#000"/>
<circle cx="390.00" cy="287.05" r="2.3" fill="#000"/>
<circle cx="387.00" cy="302.01" r="2.3" fill="#000"/>
<line x1="387.00" y1="296.26" x2="387.00" y2="263.66" stroke="#000" stroke-width="1.5"/>
<line x1="384.00" y1="296.26" x2="390.00" y2="296.26" stroke="#000" stroke-width="1.5"/>
<line x1="384.00" y1="263.66" x2="390.00" y2="263.66" stroke="#000" stroke-width="1.5"/>
<line x1="382.00" y1="279.77" x2="392.00" y2="279.77" stroke="#000" stroke-width="1.5"/>
<rect x="400.45" y="231.88" width="4.5" height="4.5" fill="#4350b5"/>
<rect x="397.95" y="237.63" width="4.5" height="4.5" fill="#4350b5"/>
<rect x="403.05" y="241.85" width="4.5" height="4.5" fill="#4350b5"/>
<rect x="399.45" y="244.92" width="4.5" height="4.5" fill="#4350b5"/>
<rect x="401.65" y="247.99" width="4.5" height="4.5" fill="#4350b5"/>
<rect x="400.45" y="251.44" width="4.5" height="4.5" fill="#4350b5"/>
<line x1="402.70" y1="250.24" x2="402.70" y2="239.50" stroke="#4350b5" stroke-width="1.5"/>
<line x1="399.70" y1="250.24" x2="405.70" y2="250.24" stroke="#4350b5" stroke-width="1.5"/>
<line x1="399.70" y1="239.50" x2="405.70" y2="239.50" stroke="#4350b5" stroke-width="1.5"/>
<line x1="397.70" y1="244.87" x2="407.70" y2="244.87" stroke="#222" stroke-width="1.5"/>
<text x="275.4" y="331.9" font-size="8.4" text-anchor="end" fill="#e5311f" transform="rotate(-45 275.4 331.9)">HCC1806</text>
<text x="317.08" y="331.9" font-size="8.4" text-anchor="end" fill="#e5311f" transform="rotate(-45 317.08 331.9)">Hs 578T</text>
<text x="359.94" y="332.1" font-size="8.4" text-anchor="end" fill="#000" transform="rotate(-45 359.94 332.1)">MDA-MB-468</text>
<text x="404.74" y="332.1" font-size="8.4" text-anchor="end" fill="#000" transform="rotate(-45 404.74 332.1)">MDA-MB-436</text>
<text x="459.5" y="200.3" font-size="14.3" text-anchor="start" fill="#000" font-weight="bold">g</text>
<line x1="500.10" y1="222.00" x2="500.10" y2="331.15" stroke="#000" stroke-width="1.7"/>
<line x1="496.30" y1="330.30" x2="500.10" y2="330.30" stroke="#000" stroke-width="1.7"/>
<line x1="496.30" y1="286.60" x2="500.10" y2="286.60" stroke="#000" stroke-width="1.7"/>
<line x1="496.30" y1="242.90" x2="500.10" y2="242.90" stroke="#000" stroke-width="1.7"/>
<text x="492.1" y="333.31" font-size="8.4" text-anchor="end" fill="#000">0</text>
<text x="492.1" y="289.61" font-size="8.4" text-anchor="end" fill="#000">1</text>
<text x="492.1" y="245.91" font-size="8.4" text-anchor="end" fill="#000">2</text>
<line x1="499.25" y1="330.30" x2="663.10" y2="330.30" stroke="#000" stroke-width="1.7"/>
<line x1="517.90" y1="330.30" x2="517.90" y2="333.90" stroke="#000" stroke-width="1.7"/>
<line x1="559.70" y1="330.30" x2="559.70" y2="333.90" stroke="#000" stroke-width="1.7"/>
<line x1="602.40" y1="330.30" x2="602.40" y2="333.90" stroke="#000" stroke-width="1.7"/>
<line x1="644.30" y1="330.30" x2="644.30" y2="333.90" stroke="#000" stroke-width="1.7"/>
<text x="467.3" y="276.0" font-size="8.4" text-anchor="middle" fill="#000" transform="rotate(-90 467.3 276.0)">Fold change</text>
<text x="477.3" y="276.0" font-size="8.4" text-anchor="middle" fill="#000" transform="rotate(-90 477.3 276.0)">(Initial OCR)</text>
<circle cx="522.60" cy="204.50" r="2.0" fill="#000"/>
<text x="528.6" y="207.5" font-size="8.75" text-anchor="start" fill="#000">Si-<tspan font-style="italic">LUC</tspan></text>
<rect x="520.70" y="217.60" width="3.8" height="3.8" fill="#4350b5"/>
<text x="528.6" y="222.7" font-size="8.75" text-anchor="start" fill="#000">Si-<tspan font-style="italic">SLC2A1</tspan></text>
<line x1="509.10" y1="246.50" x2="532.00" y2="246.50" stroke="#777" stroke-width="1.0"/>
<text x="519.05" y="243.8" font-size="9.0" text-anchor="middle" fill="#000">n.s</text>
<line x1="544.00" y1="246.50" x2="566.70" y2="246.50" stroke="#777" stroke-width="1.0"/>
<text x="553.85" y="243.8" font-size="9.0" text-anchor="middle" fill="#000">n.s</text>
<line x1="592.60" y1="246.30" x2="615.10" y2="246.30" stroke="#777" stroke-width="1.0"/>
<text x="603.85" y="243.11" font-size="9.0" text-anchor="middle" fill="#000">***</text>
<line x1="636.40" y1="234.40" x2="659.20" y2="234.40" stroke="#777" stroke-width="1.0"/>
<text x="647.8" y="231.21" font-size="9.0" text-anchor="middle" fill="#000">****</text>
<circle cx="510.50" cy="256.01" r="2.3" fill="#000"/>
<circle cx="508.10" cy="280.70" r="2.3" fill="#000"/>
<circle cx="513.20" cy="283.54" r="2.3" fill="#000"/>
<circle cx="508.80" cy="288.35" r="2.3" fill="#000"/>
<circle cx="512.50" cy="292.28" r="2.3" fill="#000"/>
<circle cx="510.50" cy="286.60" r="2.3" fill="#000"/>
<line x1="510.50" y1="296.65" x2="510.50" y2="269.12" stroke="#000" stroke-width="1.5"/>
<line x1="507.50" y1="296.65" x2="513.50" y2="296.65" stroke="#000" stroke-width="1.5"/>
<line x1="507.50" y1="269.12" x2="513.50" y2="269.12" stroke="#000" stroke-width="1.5"/>
<line x1="505.50" y1="282.23" x2="515.50" y2="282.23" stroke="#000" stroke-width="1.5"/>
<rect x="524.15" y="277.80" width="4.5" height="4.5" fill="#4350b5"/>
<rect x="524.15" y="283.91" width="4.5" height="4.5" fill="#4350b5"/>
<rect x="521.95" y="291.78" width="4.5" height="4.5" fill="#4350b5"/>
<rect x="528.55" y="293.96" width="4.5" height="4.5" fill="#4350b5"/>
<rect x="521.15" y="300.52" width="4.5" height="4.5" fill="#4350b5"/>
<rect x="525.65" y="290.47" width="4.5" height="4.5" fill="#4350b5"/>
<line x1="526.40" y1="301.46" x2="526.40" y2="288.35" stroke="#4350b5" stroke-width="1.5"/>
<line x1="523.40" y1="301.46" x2="529.40" y2="301.46" stroke="#4350b5" stroke-width="1.5"/>
<line x1="523.40" y1="288.35" x2="529.40" y2="288.35" stroke="#4350b5" stroke-width="1.5"/>
<line x1="521.40" y1="292.72" x2="531.40" y2="292.72" stroke="#222" stroke-width="1.5"/>
<circle cx="550.50" cy="277.86" r="2.3" fill="#000"/>
<circle cx="555.00" cy="280.70" r="2.3" fill="#000"/>
<circle cx="552.70" cy="287.47" r="2.3" fill="#000"/>
<circle cx="554.20" cy="292.28" r="2.3" fill="#000"/>
<circle cx="549.80" cy="297.52" r="2.3" fill="#000"/>
<line x1="552.70" y1="294.47" x2="552.70" y2="280.48" stroke="#000" stroke-width="1.5"/>
<line x1="549.70" y1="294.47" x2="555.70" y2="294.47" stroke="#000" stroke-width="1.5"/>
<line x1="549.70" y1="280.48" x2="555.70" y2="280.48" stroke="#000" stroke-width="1.5"/>
<line x1="547.70" y1="287.47" x2="557.70" y2="287.47" stroke="#000" stroke-width="1.5"/>
<rect x="565.85" y="255.07" width="4.5" height="4.5" fill="#4350b5"/>
<rect x="564.45" y="271.24" width="4.5" height="4.5" fill="#4350b5"/>
<rect x="568.05" y="269.49" width="4.5" height="4.5" fill="#4350b5"/>
<rect x="563.65" y="287.41" width="4.5" height="4.5" fill="#4350b5"/>
<rect x="568.05" y="287.41" width="4.5" height="4.5" fill="#4350b5"/>
<line x1="568.10" y1="288.35" x2="568.10" y2="264.31" stroke="#4350b5" stroke-width="1.5"/>
<line x1="565.10" y1="288.35" x2="571.10" y2="288.35" stroke="#4350b5" stroke-width="1.5"/>
<line x1="565.10" y1="264.31" x2="571.10" y2="264.31" stroke="#4350b5" stroke-width="1.5"/>
<line x1="563.10" y1="276.11" x2="573.10" y2="276.11" stroke="#222" stroke-width="1.5"/>
<circle cx="591.80" cy="274.80" r="2.3" fill="#000"/>
<circle cx="597.10" cy="271.74" r="2.3" fill="#000"/>
<circle cx="596.40" cy="284.85" r="2.3" fill="#000"/>
<circle cx="593.20" cy="288.79" r="2.3" fill="#000"/>
<circle cx="594.80" cy="305.83" r="2.3" fill="#000"/>
<circle cx="594.80" cy="286.60" r="2.3" fill="#000"/>
<line x1="594.80" y1="298.40" x2="594.80" y2="273.49" stroke="#000" stroke-width="1.5"/>
<line x1="591.80" y1="298.40" x2="597.80" y2="298.40" stroke="#000" stroke-width="1.5"/>
<line x1="591.80" y1="273.49" x2="597.80" y2="273.49" stroke="#000" stroke-width="1.5"/>
<line x1="589.80" y1="286.60" x2="599.80" y2="286.60" stroke="#000" stroke-width="1.5"/>
<rect x="605.75" y="250.05" width="4.5" height="4.5" fill="#4350b5"/>
<rect x="610.45" y="248.52" width="4.5" height="4.5" fill="#4350b5"/>
<rect x="605.75" y="257.69" width="4.5" height="4.5" fill="#4350b5"/>
<rect x="610.45" y="257.69" width="4.5" height="4.5" fill="#4350b5"/>
<rect x="610.45" y="268.62" width="4.5" height="4.5" fill="#4350b5"/>
<rect x="605.75" y="272.11" width="4.5" height="4.5" fill="#4350b5"/>
<line x1="610.40" y1="272.18" x2="610.40" y2="251.64" stroke="#4350b5" stroke-width="1.5"/>
<line x1="607.40" y1="272.18" x2="613.40" y2="272.18" stroke="#4350b5" stroke-width="1.5"/>
<line x1="607.40" y1="251.64" x2="613.40" y2="251.64" stroke="#4350b5" stroke-width="1.5"/>
<line x1="605.40" y1="261.69" x2="615.40" y2="261.69" stroke="#222" stroke-width="1.5"/>
<circle cx="634.40" cy="284.42" r="2.3" fill="#000"/>
<circle cx="639.70" cy="284.42" r="2.3" fill="#000"/>
<circle cx="636.90" cy="286.60" r="2.3" fill="#000"/>
<circle cx="640.90" cy="286.60" r="2.3" fill="#000"/>
<circle cx="634.40" cy="288.79" r="2.3" fill="#000"/>
<circle cx="635.90" cy="290.97" r="2.3" fill="#000"/>
<rect x="649.45" y="240.65" width="4.5" height="4.5" fill="#4350b5"/>
<rect x="647.85" y="247.64" width="4.5" height="4.5" fill="#4350b5"/>
<rect x="652.55" y="246.33" width="4.5" height="4.5" fill="#4350b5"/>
<rect x="647.85" y="256.38" width="4.5" height="4.5" fill="#4350b5"/>
<rect x="652.55" y="256.38" width="4.5" height="4.5" fill="#4350b5"/>
<rect x="650.15" y="264.25" width="4.5" height="4.5" fill="#4350b5"/>
<line x1="652.40" y1="260.38" x2="652.40" y2="248.14" stroke="#4350b5" stroke-width="1.5"/>
<line x1="649.40" y1="260.38" x2="655.40" y2="260.38" stroke="#4350b5" stroke-width="1.5"/>
<line x1="649.40" y1="248.14" x2="655.40" y2="248.14" stroke="#4350b5" stroke-width="1.5"/>
<line x1="647.40" y1="254.26" x2="657.40" y2="254.26" stroke="#222" stroke-width="1.5"/>
<text x="521.9" y="344.9" font-size="8.4" text-anchor="end" fill="#e5311f" transform="rotate(-45 521.9 344.9)">HCC1806</text>
<text x="566.38" y="344.9" font-size="8.4" text-anchor="end" fill="#e5311f" transform="rotate(-45 566.38 344.9)">Hs 578T</text>
<text x="607.64" y="344.9" font-size="8.4" text-anchor="end" fill="#000" transform="rotate(-45 607.64 344.9)">MDA-MB-468</text>
<text x="651.54" y="344.4" font-size="8.4" text-anchor="end" fill="#000" transform="rotate(-45 651.54 344.4)">MDA-MB-436</text>
<text x="-0.3" y="404.3" font-size="14.3" text-anchor="start" fill="#000" font-weight="bold">h</text>
<text x="111.2" y="404.4" font-size="9.3" text-anchor="middle" fill="#000">Fold change</text>
<text x="111.2" y="414.6" font-size="9.3" text-anchor="middle" fill="#000">(Glutamine in the media)</text>
<text x="-0.5" y="441.3" font-size="8.6" text-anchor="start" fill="#000">BAY-876 (Time)</text>
<text x="79.3" y="441.3" font-size="8.6" text-anchor="middle" fill="#000">24</text>
<text x="111.7" y="441.3" font-size="8.6" text-anchor="middle" fill="#000">72</text>
<text x="149.3" y="441.3" font-size="8.6" text-anchor="middle" fill="#000">120</text>
<text x="167.9" y="441.3" font-size="8.6" text-anchor="middle" fill="#000">(h)</text>
<text x="57.9" y="454.7" font-size="8.5" text-anchor="end" fill="#e5311f">HCC1806</text>
<text x="57.9" y="467.84999999999997" font-size="8.5" text-anchor="end" fill="#e5311f">Hs 578T</text>
<text x="57.9" y="481.0" font-size="8.5" text-anchor="end" fill="#000">MDA-MB-468</text>
<text x="57.9" y="494.15" font-size="8.5" text-anchor="end" fill="#000">MDA-MB-436</text>
<rect x="61.60" y="447.20" width="36.70" height="13.30" fill="#8ecfe8"/>
<rect x="97.70" y="447.20" width="35.80" height="13.30" fill="#92d8e6"/>
<rect x="132.90" y="447.20" width="36.40" height="13.30" fill="#8fd3ea"/>
<rect x="61.60" y="459.90" width="36.70" height="13.40" fill="#93dae5"/>
<rect x="97.70" y="459.90" width="35.80" height="13.40" fill="#93dae5"/>
<rect x="132.90" y="459.90" width="36.40" height="13.40" fill="#8fd0ea"/>
<rect x="61.60" y="472.70" width="36.70" height="13.60" fill="#93cfe8"/>
<rect x="97.70" y="472.70" width="35.80" height="13.60" fill="#b196df"/>
<rect x="132.90" y="472.70" width="36.40" height="13.60" fill="#c95db3"/>
<rect x="61.60" y="485.70" width="36.70" height="13.00" fill="#92d8e6"/>
<rect x="97.70" y="485.70" width="35.80" height="13.00" fill="#bd72cc"/>
<rect x="132.90" y="485.70" width="36.40" height="13.00" fill="#c060b8"/>
<rect x="61.60" y="447.20" width="107.70" height="51.50" fill="none" stroke="#000" stroke-width="2.0"/>
<defs><linearGradient id="cb1" x1="0" y1="0" x2="0" y2="1"><stop offset="0" stop-color="#8ed8e8"/><stop offset="0.25" stop-color="#98c4e8"/><stop offset="0.5" stop-color="#ac9ee0"/><stop offset="0.75" stop-color="#c070cc"/><stop offset="1" stop-color="#c858b4"/></linearGradient></defs>
<rect x="181.50" y="446.30" width="11.10" height="52.30" fill="url(#cb1)" stroke="#000" stroke-width="1.1"/>
<line x1="181.50" y1="459.60" x2="183.10" y2="459.60" stroke="#000" stroke-width="1.0"/>
<line x1="191.00" y1="459.60" x2="192.60" y2="459.60" stroke="#000" stroke-width="1.0"/>
<line x1="181.50" y1="472.40" x2="183.10" y2="472.40" stroke="#000" stroke-width="1.0"/>
<line x1="191.00" y1="472.40" x2="192.60" y2="472.40" stroke="#000" stroke-width="1.0"/>
<line x1="181.50" y1="485.50" x2="183.10" y2="485.50" stroke="#000" stroke-width="1.0"/>
<line x1="191.00" y1="485.50" x2="192.60" y2="485.50" stroke="#000" stroke-width="1.0"/>
<text x="195.0" y="451.5" font-size="8.6" text-anchor="start" fill="#000">1</text>
<text x="195.0" y="476.0" font-size="8.6" text-anchor="start" fill="#000">0.6</text>
<text x="195.0" y="500.3" font-size="8.6" text-anchor="start" fill="#000">0.2</text>
<text x="225.3" y="404.3" font-size="14.3" text-anchor="start" fill="#000" font-weight="bold">i</text>
<text x="330.1" y="407.5" font-size="9.3" text-anchor="middle" fill="#000">Fold change</text>
<text x="330.3" y="418.0" font-size="9.3" text-anchor="middle" fill="#000">(Glutamine in the media)</text>
<text x="221.5" y="447.5" font-size="8.6" text-anchor="start" fill="#000">Si- <tspan font-style="italic">SLC2A</tspan>1 (Time)</text>
<text x="302.3" y="447.5" font-size="8.6" text-anchor="middle" fill="#000">24</text>
<text x="330.7" y="447.5" font-size="8.6" text-anchor="middle" fill="#000">48</text>
<text x="360.0" y="447.5" font-size="8.6" text-anchor="middle" fill="#000">72</text>
<text x="379.8" y="447.5" font-size="8.6" text-anchor="middle" fill="#000">(h)</text>
<text x="274.0" y="460.8" font-size="8.4" text-anchor="end" fill="#e5311f">HCC1806</text>
<text x="274.0" y="474.25" font-size="8.4" text-anchor="end" fill="#e5311f">Hs 578T</text>
<text x="274.0" y="487.7" font-size="8.4" text-anchor="end" fill="#000">MDA-MB-468</text>
<text x="274.0" y="501.15" font-size="8.4" text-anchor="end" fill="#000">MDA-MB-436</text>
<rect x="278.80" y="450.50" width="36.00" height="14.80" fill="#93dae5"/>
<rect x="314.20" y="450.50" width="36.30" height="14.80" fill="#98c4e6"/>
<rect x="349.90" y="450.50" width="35.50" height="14.80" fill="#8fd1ea"/>
<rect x="278.80" y="464.70" width="36.00" height="14.20" fill="#97c9e7"/>
<rect x="314.20" y="464.70" width="36.30" height="14.20" fill="#8fd0ea"/>
<rect x="349.90" y="464.70" width="35.50" height="14.20" fill="#94cbe8"/>
<rect x="278.80" y="478.30" width="36.00" height="13.80" fill="#93d8e6"/>
<rect x="314.20" y="478.30" width="36.30" height="13.80" fill="#c171cc"/>
<rect x="349.90" y="478.30" width="35.50" height="13.80" fill="#c65eb4"/>
<rect x="278.80" y="491.50" width="36.00" height="13.80" fill="#aca8e0"/>
<rect x="314.20" y="491.50" width="36.30" height="13.80" fill="#c85db4"/>
<rect x="349.90" y="491.50" width="35.50" height="13.80" fill="#c95db2"/>
<rect x="278.80" y="450.50" width="106.60" height="54.80" fill="none" stroke="#000" stroke-width="2.0"/>
<defs><linearGradient id="cb2" x1="0" y1="0" x2="0" y2="1"><stop offset="0" stop-color="#8ed8e8"/><stop offset="0.25" stop-color="#98c4e8"/><stop offset="0.5" stop-color="#ac9ee0"/><stop offset="0.75" stop-color="#c070cc"/><stop offset="1" stop-color="#c858b4"/></linearGradient></defs>
<rect x="398.70" y="452.70" width="9.70" height="48.60" fill="url(#cb2)" stroke="#000" stroke-width="1.1"/>
<line x1="398.70" y1="459.00" x2="400.30" y2="459.00" stroke="#000" stroke-width="1.0"/>
<line x1="406.80" y1="459.00" x2="408.40" y2="459.00" stroke="#000" stroke-width="1.0"/>
<line x1="398.70" y1="473.30" x2="400.30" y2="473.30" stroke="#000" stroke-width="1.0"/>
<line x1="406.80" y1="473.30" x2="408.40" y2="473.30" stroke="#000" stroke-width="1.0"/>
<line x1="398.70" y1="486.60" x2="400.30" y2="486.60" stroke="#000" stroke-width="1.0"/>
<line x1="406.80" y1="486.60" x2="408.40" y2="486.60" stroke="#000" stroke-width="1.0"/>
<text x="410.8" y="477.3" font-size="8.6" text-anchor="start" fill="#000">0.8</text>
<text x="410.8" y="490.8" font-size="8.6" text-anchor="start" fill="#000">0.4</text>
<text x="433.6" y="405.0" font-size="14.3" text-anchor="start" fill="#000" font-weight="bold">j</text>
<text x="509.0" y="416.8" font-size="8.5" text-anchor="middle" fill="#000">MDA-MB-468</text>
<line x1="473.70" y1="425.70" x2="481.70" y2="425.70" stroke="#e5311f" stroke-width="1.4"/>
<circle cx="477.70" cy="425.70" r="1.5" fill="#e5311f"/>
<text x="485.2" y="428.59999999999997" font-size="8.4" text-anchor="start" fill="#000">0.5 × glutamine</text>
<line x1="473.70" y1="439.10" x2="481.70" y2="439.10" stroke="#000" stroke-width="1.4"/>
<circle cx="477.70" cy="439.10" r="1.5" fill="#000"/>
<text x="485.2" y="442.0" font-size="8.4" text-anchor="start" fill="#000">1 × glutamine</text>
<line x1="469.60" y1="426.00" x2="469.60" y2="516.55" stroke="#000" stroke-width="1.7"/>
<line x1="466.20" y1="515.70" x2="469.60" y2="515.70" stroke="#000" stroke-width="1.7"/>
<line x1="466.20" y1="485.70" x2="469.60" y2="485.70" stroke="#000" stroke-width="1.7"/>
<line x1="466.20" y1="455.70" x2="469.60" y2="455.70" stroke="#000" stroke-width="1.7"/>
<line x1="466.20" y1="425.70" x2="469.60" y2="425.70" stroke="#000" stroke-width="1.7"/>
<text x="463.4" y="518.71" font-size="8.4" text-anchor="end" fill="#000">0</text>
<text x="463.4" y="488.71" font-size="8.4" text-anchor="end" fill="#000">50</text>
<text x="463.4" y="458.71" font-size="8.4" text-anchor="end" fill="#000">100</text>
<line x1="468.75" y1="515.70" x2="555.50" y2="515.70" stroke="#000" stroke-width="1.7"/>
<line x1="479.60" y1="515.70" x2="479.60" y2="519.30" stroke="#000" stroke-width="1.7"/>
<line x1="504.90" y1="515.70" x2="504.90" y2="519.30" stroke="#000" stroke-width="1.7"/>
<line x1="530.20" y1="515.70" x2="530.20" y2="519.30" stroke="#000" stroke-width="1.7"/>
<line x1="555.50" y1="515.70" x2="555.50" y2="519.30" stroke="#000" stroke-width="1.7"/>
<text x="477.8" y="530.0" font-size="8.4" text-anchor="middle" fill="#000">−1</text>
<text x="504.9" y="530.0" font-size="8.4" text-anchor="middle" fill="#000">0</text>
<text x="530.2" y="530.0" font-size="8.4" text-anchor="middle" fill="#000">1</text>
<text x="440.5" y="473.5" font-size="8.4" text-anchor="middle" fill="#000" transform="rotate(-90 440.5 473.5)">Confluency(%)</text>
<text x="510.0" y="542.3" font-size="8.5" text-anchor="middle">[BAY-876] Log<tspan font-size="5.4" dy="2.4">10</tspan><tspan dy="-2.4"> (µM)</tspan></text>
<polyline points="469.28,455.38 470.31,455.38 471.34,455.38 472.38,455.38 473.41,455.38 474.44,455.38 475.47,455.39 476.51,455.39 477.54,455.39 478.57,455.39 479.60,455.40 480.64,455.40 481.67,455.41 482.70,455.41 483.73,455.42 484.77,455.43 485.80,455.44 486.83,455.45 487.86,455.46 488.90,455.48 489.93,455.50 490.96,455.52 491.99,455.54 493.03,455.57 494.06,455.60 495.09,455.64 496.12,455.68 497.16,455.74 498.19,455.80 499.22,455.87 500.26,455.95 501.29,456.04 502.32,456.15 503.35,456.28 504.39,456.43 505.42,456.61 506.45,456.81 507.48,457.04 508.52,457.31 509.55,457.62 510.58,457.98 511.61,458.39 512.65,458.87 513.68,459.41 514.71,460.04 515.74,460.75 516.78,461.55 517.81,462.47 518.84,463.49 519.87,464.64 520.91,465.92 521.94,467.33 522.97,468.88 524.00,470.57 525.04,472.39 526.07,474.34 527.10,476.40 528.13,478.57 529.17,480.81 530.20,483.10" fill="none" stroke="#000" stroke-width="1.9" stroke-linejoin="round"/>
<circle cx="469.28" cy="454.68" r="1.5" fill="#000"/>
<circle cx="476.89" cy="454.80" r="1.5" fill="#000"/>
<circle cx="484.51" cy="454.98" r="1.5" fill="#000"/>
<circle cx="492.12" cy="455.52" r="1.5" fill="#000"/>
<circle cx="499.74" cy="456.42" r="1.5" fill="#000"/>
<circle cx="507.35" cy="458.58" r="1.5" fill="#000"/>
<circle cx="514.97" cy="460.62" r="1.5" fill="#000"/>
<circle cx="522.58" cy="467.10" r="1.5" fill="#000"/>
<circle cx="530.20" cy="483.60" r="1.5" fill="#000"/>
<line x1="522.58" y1="468.90" x2="522.58" y2="465.30" stroke="#000" stroke-width="1.1"/>
<line x1="520.83" y1="468.90" x2="524.33" y2="468.90" stroke="#000" stroke-width="1.1"/>
<line x1="520.83" y1="465.30" x2="524.33" y2="465.30" stroke="#000" stroke-width="1.1"/>
<line x1="530.20" y1="491.70" x2="530.20" y2="474.06" stroke="#000" stroke-width="1.1"/>
<line x1="528.45" y1="491.70" x2="531.95" y2="491.70" stroke="#000" stroke-width="1.1"/>
<line x1="528.45" y1="474.06" x2="531.95" y2="474.06" stroke="#000" stroke-width="1.1"/>
<polyline points="469.28,459.70 470.31,459.73 471.34,459.77 472.38,459.82 473.41,459.86 474.44,459.92 475.47,459.97 476.51,460.04 477.54,460.10 478.57,460.18 479.60,460.26 480.64,460.36 481.67,460.46 482.70,460.56 483.73,460.68 484.77,460.82 485.80,460.96 486.83,461.12 487.86,461.29 488.90,461.48 489.93,461.68 490.96,461.91 491.99,462.15 493.03,462.42 494.06,462.71 495.09,463.02 496.12,463.36 497.16,463.73 498.19,464.14 499.22,464.57 500.26,465.04 501.29,465.55 502.32,466.09 503.35,466.68 504.39,467.31 505.42,467.99 506.45,468.71 507.48,469.47 508.52,470.29 509.55,471.15 510.58,472.07 511.61,473.03 512.65,474.04 513.68,475.10 514.71,476.20 515.74,477.35 516.78,478.53 517.81,479.76 518.84,481.01 519.87,482.29 520.91,483.60 521.94,484.92 522.97,486.26 524.00,487.60 525.04,488.94 526.07,490.27 527.10,491.59 528.13,492.89 529.17,494.17 530.20,495.43" fill="none" stroke="#e5311f" stroke-width="1.9" stroke-linejoin="round"/>
<circle cx="469.28" cy="458.58" r="1.5" fill="#e5311f"/>
<circle cx="476.89" cy="459.00" r="1.5" fill="#e5311f"/>
<circle cx="484.51" cy="460.14" r="1.5" fill="#e5311f"/>
<circle cx="492.12" cy="465.90" r="1.5" fill="#e5311f"/>
<circle cx="499.74" cy="465.30" r="1.5" fill="#e5311f"/>
<circle cx="507.35" cy="468.96" r="1.5" fill="#e5311f"/>
<circle cx="514.97" cy="474.06" r="1.5" fill="#e5311f"/>
<circle cx="522.58" cy="487.32" r="1.5" fill="#e5311f"/>
<circle cx="530.20" cy="495.42" r="1.5" fill="#e5311f"/>
<line x1="484.51" y1="462.90" x2="484.51" y2="457.50" stroke="#e5311f" stroke-width="1.1"/>
<line x1="482.76" y1="462.90" x2="486.26" y2="462.90" stroke="#e5311f" stroke-width="1.1"/>
<line x1="482.76" y1="457.50" x2="486.26" y2="457.50" stroke="#e5311f" stroke-width="1.1"/>
<line x1="492.12" y1="473.10" x2="492.12" y2="460.50" stroke="#e5311f" stroke-width="1.1"/>
<line x1="490.37" y1="473.10" x2="493.87" y2="473.10" stroke="#e5311f" stroke-width="1.1"/>
<line x1="490.37" y1="460.50" x2="493.87" y2="460.50" stroke="#e5311f" stroke-width="1.1"/>
<line x1="499.74" y1="471.30" x2="499.74" y2="458.70" stroke="#e5311f" stroke-width="1.1"/>
<line x1="497.99" y1="471.30" x2="501.49" y2="471.30" stroke="#e5311f" stroke-width="1.1"/>
<line x1="497.99" y1="458.70" x2="501.49" y2="458.70" stroke="#e5311f" stroke-width="1.1"/>
<line x1="514.97" y1="476.70" x2="514.97" y2="470.10" stroke="#e5311f" stroke-width="1.1"/>
<line x1="513.22" y1="476.70" x2="516.72" y2="476.70" stroke="#e5311f" stroke-width="1.1"/>
<line x1="513.22" y1="470.10" x2="516.72" y2="470.10" stroke="#e5311f" stroke-width="1.1"/>
<line x1="522.58" y1="492.90" x2="522.58" y2="482.70" stroke="#e5311f" stroke-width="1.1"/>
<line x1="520.83" y1="492.90" x2="524.33" y2="492.90" stroke="#e5311f" stroke-width="1.1"/>
<line x1="520.83" y1="482.70" x2="524.33" y2="482.70" stroke="#e5311f" stroke-width="1.1"/>
<line x1="530.20" y1="500.10" x2="530.20" y2="491.70" stroke="#e5311f" stroke-width="1.1"/>
<line x1="528.45" y1="500.10" x2="531.95" y2="500.10" stroke="#e5311f" stroke-width="1.1"/>
<line x1="528.45" y1="491.70" x2="531.95" y2="491.70" stroke="#e5311f" stroke-width="1.1"/>
<text x="512.7" y="485.7" font-size="9.5" text-anchor="middle" fill="#000">**</text>
<text x="519.8" y="501.8" font-size="9.5" text-anchor="middle" fill="#000">**</text>
<text x="530.3" y="507.6" font-size="9.5" text-anchor="middle" fill="#000">*</text>
<text x="635.6" y="414.5" font-size="8.5" text-anchor="middle" fill="#000">MDA-MB-436</text>
<line x1="603.50" y1="427.10" x2="611.50" y2="427.10" stroke="#e5311f" stroke-width="1.4"/>
<circle cx="607.50" cy="427.10" r="1.5" fill="#e5311f"/>
<text x="615.0" y="430.0" font-size="8.4" text-anchor="start" fill="#000">0.5 × glutamine</text>
<line x1="603.50" y1="441.90" x2="611.50" y2="441.90" stroke="#000" stroke-width="1.4"/>
<circle cx="607.50" cy="441.90" r="1.5" fill="#000"/>
<text x="615.0" y="444.79999999999995" font-size="8.4" text-anchor="start" fill="#000">1 × glutamine</text>
<line x1="599.20" y1="426.50" x2="599.20" y2="516.25" stroke="#000" stroke-width="1.7"/>
<line x1="595.80" y1="515.40" x2="599.20" y2="515.40" stroke="#000" stroke-width="1.7"/>
<line x1="595.80" y1="485.40" x2="599.20" y2="485.40" stroke="#000" stroke-width="1.7"/>
<line x1="595.80" y1="455.40" x2="599.20" y2="455.40" stroke="#000" stroke-width="1.7"/>
<line x1="595.80" y1="425.40" x2="599.20" y2="425.40" stroke="#000" stroke-width="1.7"/>
<text x="593.0" y="518.41" font-size="8.4" text-anchor="end" fill="#000">0</text>
<text x="593.0" y="488.41" font-size="8.4" text-anchor="end" fill="#000">50</text>
<text x="593.0" y="458.41" font-size="8.4" text-anchor="end" fill="#000">100</text>
<line x1="598.35" y1="515.40" x2="685.00" y2="515.40" stroke="#000" stroke-width="1.7"/>
<line x1="609.45" y1="515.40" x2="609.45" y2="519.00" stroke="#000" stroke-width="1.7"/>
<line x1="634.20" y1="515.40" x2="634.20" y2="519.00" stroke="#000" stroke-width="1.7"/>
<line x1="658.95" y1="515.40" x2="658.95" y2="519.00" stroke="#000" stroke-width="1.7"/>
<line x1="683.70" y1="515.40" x2="683.70" y2="519.00" stroke="#000" stroke-width="1.7"/>
<text x="607.65" y="530.0" font-size="8.4" text-anchor="middle" fill="#000">−1</text>
<text x="634.2" y="530.0" font-size="8.4" text-anchor="middle" fill="#000">0</text>
<text x="658.95" y="530.0" font-size="8.4" text-anchor="middle" fill="#000">1</text>
<text x="570.0" y="473.5" font-size="8.4" text-anchor="middle" fill="#000" transform="rotate(-90 570.0 473.5)">Confluency(%)</text>
<text x="638.0" y="542.3" font-size="8.5" text-anchor="middle">[BAY-876] Log<tspan font-size="5.4" dy="2.4">10</tspan><tspan dy="-2.4"> (µM)</tspan></text>
<polyline points="599.35,454.87 600.36,454.87 601.37,454.87 602.38,454.87 603.39,454.87 604.40,454.87 605.41,454.87 606.42,454.88 607.43,454.88 608.44,454.88 609.45,454.88 610.46,454.88 611.47,454.88 612.48,454.89 613.49,454.89 614.50,454.89 615.51,454.89 616.52,454.90 617.53,454.90 618.54,454.91 619.55,454.91 620.56,454.92 621.57,454.93 622.59,454.93 623.60,454.94 624.61,454.95 625.62,454.97 626.63,454.98 627.64,454.99 628.65,455.01 629.66,455.03 630.67,455.06 631.68,455.08 632.69,455.11 633.70,455.15 634.71,455.18 635.72,455.23 636.73,455.28 637.74,455.33 638.75,455.40 639.76,455.47 640.77,455.56 641.78,455.65 642.79,455.76 643.80,455.88 644.81,456.02 645.82,456.18 646.83,456.36 647.84,456.56 648.85,456.79 649.86,457.05 650.87,457.34 651.88,457.67 652.89,458.04 653.90,458.46 654.91,458.92 655.92,459.45 656.93,460.03 657.94,460.68 658.95,461.41" fill="none" stroke="#000" stroke-width="1.9" stroke-linejoin="round"/>
<circle cx="599.35" cy="454.80" r="1.5" fill="#000"/>
<circle cx="606.80" cy="454.80" r="1.5" fill="#000"/>
<circle cx="614.25" cy="454.80" r="1.5" fill="#000"/>
<circle cx="621.70" cy="455.10" r="1.5" fill="#000"/>
<circle cx="629.15" cy="455.10" r="1.5" fill="#000"/>
<circle cx="636.60" cy="455.40" r="1.5" fill="#000"/>
<circle cx="644.05" cy="455.70" r="1.5" fill="#000"/>
<circle cx="651.50" cy="457.62" r="1.5" fill="#000"/>
<circle cx="658.95" cy="461.40" r="1.5" fill="#000"/>
<line x1="644.05" y1="459.60" x2="644.05" y2="454.80" stroke="#000" stroke-width="1.1"/>
<line x1="642.30" y1="459.60" x2="645.80" y2="459.60" stroke="#000" stroke-width="1.1"/>
<line x1="642.30" y1="454.80" x2="645.80" y2="454.80" stroke="#000" stroke-width="1.1"/>
<line x1="651.50" y1="462.00" x2="651.50" y2="455.40" stroke="#000" stroke-width="1.1"/>
<line x1="649.75" y1="462.00" x2="653.25" y2="462.00" stroke="#000" stroke-width="1.1"/>
<line x1="649.75" y1="455.40" x2="653.25" y2="455.40" stroke="#000" stroke-width="1.1"/>
<line x1="658.95" y1="466.80" x2="658.95" y2="455.40" stroke="#000" stroke-width="1.1"/>
<line x1="657.20" y1="466.80" x2="660.70" y2="466.80" stroke="#000" stroke-width="1.1"/>
<line x1="657.20" y1="455.40" x2="660.70" y2="455.40" stroke="#000" stroke-width="1.1"/>
<polyline points="599.35,455.75 600.36,455.76 601.37,455.77 602.38,455.77 603.39,455.78 604.40,455.79 605.41,455.80 606.42,455.81 607.43,455.83 608.44,455.84 609.45,455.86 610.46,455.88 611.47,455.90 612.48,455.92 613.49,455.95 614.50,455.98 615.51,456.01 616.52,456.05 617.53,456.09 618.54,456.14 619.55,456.19 620.56,456.25 621.57,456.32 622.59,456.39 623.60,456.47 624.61,456.57 625.62,456.67 626.63,456.79 627.64,456.92 628.65,457.07 629.66,457.23 630.67,457.42 631.68,457.62 632.69,457.85 633.70,458.11 634.71,458.39 635.72,458.71 636.73,459.06 637.74,459.45 638.75,459.88 639.76,460.36 640.77,460.88 641.78,461.46 642.79,462.10 643.80,462.80 644.81,463.56 645.82,464.39 646.83,465.29 647.84,466.27 648.85,467.33 649.86,468.46 650.87,469.67 651.88,470.96 652.89,472.32 653.90,473.76 654.91,475.26 655.92,476.83 656.93,478.45 657.94,480.12 658.95,481.82" fill="none" stroke="#e5311f" stroke-width="1.9" stroke-linejoin="round"/>
<circle cx="599.35" cy="455.40" r="1.5" fill="#e5311f"/>
<circle cx="606.80" cy="456.12" r="1.5" fill="#e5311f"/>
<circle cx="614.25" cy="455.40" r="1.5" fill="#e5311f"/>
<circle cx="621.70" cy="456.90" r="1.5" fill="#e5311f"/>
<circle cx="629.15" cy="457.62" r="1.5" fill="#e5311f"/>
<circle cx="636.60" cy="458.28" r="1.5" fill="#e5311f"/>
<circle cx="644.05" cy="463.50" r="1.5" fill="#e5311f"/>
<circle cx="651.50" cy="470.16" r="1.5" fill="#e5311f"/>
<circle cx="658.95" cy="481.92" r="1.5" fill="#e5311f"/>
<line x1="629.15" y1="461.40" x2="629.15" y2="455.40" stroke="#e5311f" stroke-width="1.1"/>
<line x1="627.40" y1="461.40" x2="630.90" y2="461.40" stroke="#e5311f" stroke-width="1.1"/>
<line x1="627.40" y1="455.40" x2="630.90" y2="455.40" stroke="#e5311f" stroke-width="1.1"/>
<line x1="636.60" y1="462.60" x2="636.60" y2="456.60" stroke="#e5311f" stroke-width="1.1"/>
<line x1="634.85" y1="462.60" x2="638.35" y2="462.60" stroke="#e5311f" stroke-width="1.1"/>
<line x1="634.85" y1="456.60" x2="638.35" y2="456.60" stroke="#e5311f" stroke-width="1.1"/>
<line x1="651.50" y1="472.20" x2="651.50" y2="466.20" stroke="#e5311f" stroke-width="1.1"/>
<line x1="649.75" y1="472.20" x2="653.25" y2="472.20" stroke="#e5311f" stroke-width="1.1"/>
<line x1="649.75" y1="466.20" x2="653.25" y2="466.20" stroke="#e5311f" stroke-width="1.1"/>
<line x1="658.95" y1="485.40" x2="658.95" y2="476.40" stroke="#e5311f" stroke-width="1.1"/>
<line x1="657.20" y1="485.40" x2="660.70" y2="485.40" stroke="#e5311f" stroke-width="1.1"/>
<line x1="657.20" y1="476.40" x2="660.70" y2="476.40" stroke="#e5311f" stroke-width="1.1"/>
<text x="642.8" y="472.4" font-size="9.5" text-anchor="middle" fill="#000">**</text>
<text x="649.0" y="479.5" font-size="9.5" text-anchor="middle" fill="#000">**</text>
<text x="659.3" y="494.4" font-size="9.5" text-anchor="middle" fill="#000">**</text>
</svg></body></html>
